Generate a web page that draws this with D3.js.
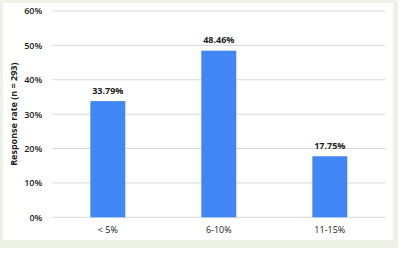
<!DOCTYPE html>
<html>
<head>
<meta charset="utf-8">
<script src="https://cdn.jsdelivr.net/npm/d3@7"></script>
<style>
  body { margin: 0; background: #ffffff; }
  svg { display: block; }
</style>
</head>
<body>
<main></main>
<script>
const categories = ["< 5%", "6-10%", "11-15%"];
const values = [33.79, 48.46, 17.75];
const yTicks = [0, 10, 20, 30, 40, 50, 60];
const yTitle = "Response rate (n = 293)";

const FONT = "'Open Sans', 'Noto Sans', sans-serif";

function drawChart () {
    var svg = d3.select("main").append("svg")
                .attr("width", 408)
                .attr("height", 266);

    // Green frame and white panel
    svg.append("rect")
       .attr("x", 0).attr("y", 0)
       .attr("width", 398).attr("height", 248)
       .style("fill", "#eef2e6");
    svg.append("rect")
       .attr("x", 3).attr("y", 3)
       .attr("width", 390).attr("height", 237)
       .style("fill", "#ffffff");

    var x = d3.scaleBand()
              .domain(categories)
              .range([52.3, 385.3])
              .paddingInner(0.685)
              .paddingOuter(0.3425);

    var y = d3.scaleLinear()
              .domain([0, 60])
              .range([217.3, 11]);

    // Grid lines
    svg.append("g")
       .selectAll("line")
       .data(yTicks)
       .enter()
       .append("line")
       .attr("x1", 52.3)
       .attr("x2", 385.3)
       .attr("y1", function(d) { return y(d); })
       .attr("y2", function(d) { return y(d); })
       .style("stroke", "#d9d9d9")
       .style("stroke-width", 1);

    // Y axis labels
    var yAxis = d3.axisLeft(y)
                  .tickValues(yTicks)
                  .tickFormat(function(d) { return d + "%"; })
                  .tickSize(0)
                  .tickPadding(10);
    var yG = svg.append("g")
                .attr("transform", "translate(52.3,0)")
                .call(yAxis);
    yG.select(".domain").remove();
    yG.selectAll("text")
      .style("font-family", FONT)
      .style("font-size", "9px")
      .style("font-weight", "600")
      .style("fill", "#222");

    // Bars
    svg.append("g")
       .selectAll("rect")
       .data(values)
       .enter()
       .append("rect")
       .attr("x", function(d, i) { return x(categories[i]); })
       .attr("y", function(d) { return y(d); })
       .attr("width", x.bandwidth())
       .attr("height", function(d) { return y(0) - y(d); })
       .style("fill", "#4286f5");

    // Value labels
    svg.append("g")
       .selectAll("text")
       .data(values)
       .enter()
       .append("text")
       .attr("x", function(d, i) { return x(categories[i]) + x.bandwidth() / 2; })
       .attr("y", function(d) { return y(d) - 7.5; })
       .style("text-anchor", "middle")
       .style("font-family", FONT)
       .style("font-size", "9px")
       .style("font-weight", "700")
       .style("fill", "#222")
       .text(function(d) { return d.toFixed(2) + "%"; });

    // X axis labels
    var xAxis = d3.axisBottom(x).tickSize(0).tickPadding(9);
    var xG = svg.append("g")
                .attr("transform", "translate(0,217.3)")
                .call(xAxis);
    xG.select(".domain").remove();
    xG.selectAll("text")
      .style("font-family", FONT)
      .style("font-size", "9px")
      .style("fill", "#222");

    // Y title
    svg.append("text")
       .attr("transform", "translate(17," + ((y(0) + y(60)) / 2) + ") rotate(-90)")
       .style("text-anchor", "middle")
       .style("font-family", FONT)
       .style("font-size", "9px")
       .style("font-weight", "700")
       .style("fill", "#222")
       .text(yTitle);
}

drawChart();
</script>
</body>
</html>
